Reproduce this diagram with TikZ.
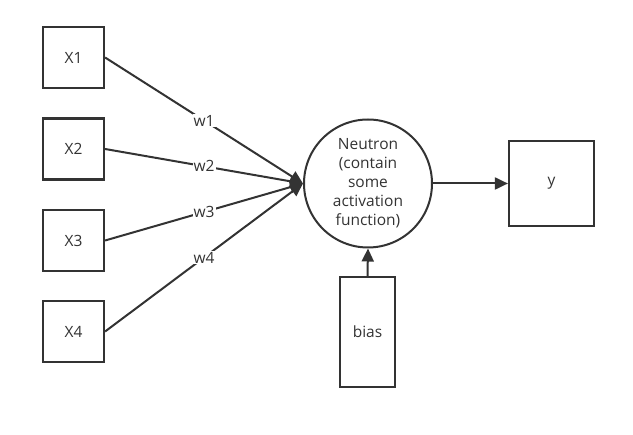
\documentclass[tikz,border=0pt]{standalone}
\usepackage{fontspec}
\setmainfont{Open Sans}
\usetikzlibrary{arrows.meta}
\definecolor{ink}{HTML}{333333}
\begin{document}
\begin{tikzpicture}[x=1pt,y=-1pt,
  box/.style={draw=ink,line width=2.2pt,minimum width=61pt,minimum height=61pt,inner sep=0pt,text=ink,font=\fontsize{15.5}{18}\selectfont},
  conn/.style={draw=ink,line width=2pt,-{Triangle[length=13pt,width=12pt]}},
  wlab/.style={fill=white,inner sep=1pt,text=ink,font=\fontsize{15.5}{18}\selectfont}]
\useasboundingbox (0,0) rectangle (633,435);
\node[box] (x1) at (73.5,57.5) {X1};
\node[box] (x2) at (73.5,149) {X2};
\node[box] (x3) at (73.5,240.5) {X3};
\node[box] (x4) at (73.5,331.5) {X4};
\node[draw=ink,line width=2pt,circle,minimum size=128pt,inner sep=0pt,text=ink,align=center,font=\fontsize{15.5}{19}\selectfont] (n) at (368,183.5) {Neutron\\(contain\\some\\activation\\function)};
\node[box,minimum width=85pt,minimum height=85pt] (y) at (551.5,183.5) {y};
\node[box,minimum width=55pt,minimum height=110pt] (b) at (367.5,332) {bias};
\draw[conn] (x1.east) -- node[wlab]{w1} (n.west);
\draw[conn] (x2.east) -- node[wlab]{w2} (n.west);
\draw[conn] (x3.east) -- node[wlab]{w3} (n.west);
\draw[conn] (x4.east) -- node[wlab]{w4} (n.west);
\draw[conn] (n.east) -- (y.west);
\draw[conn] (b.north) -- (n.south);
\end{tikzpicture}
\end{document}
